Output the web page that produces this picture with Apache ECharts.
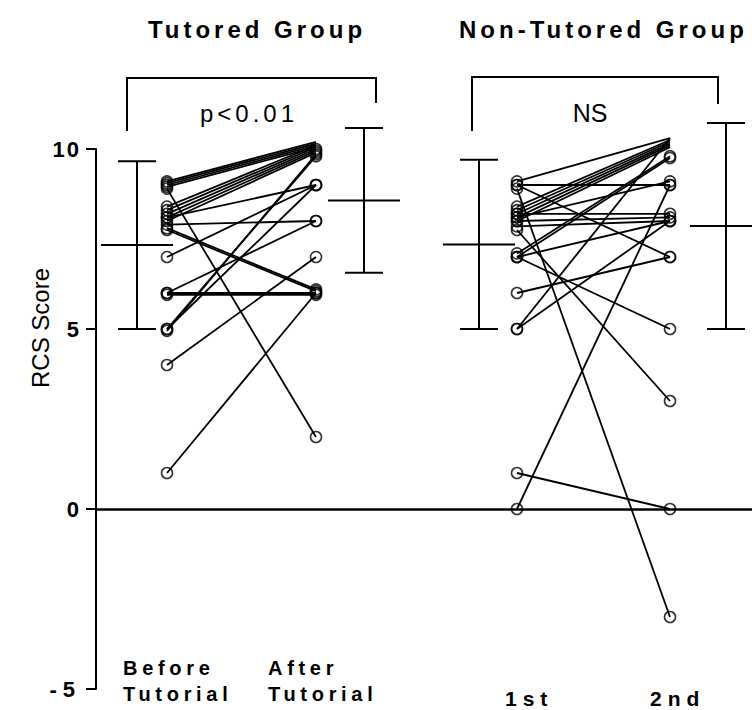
<!DOCTYPE html>
<html><head><meta charset="utf-8">
<script src="https://cdn.jsdelivr.net/npm/echarts@6/dist/echarts.min.js"></script>
<style>html,body{margin:0;padding:0;background:#fff}#c{width:752px;height:710px}</style>
</head><body><div id="c"></div>
<script>
// ---- data ----
const groupTitles = ['Tutored Group', 'Non-Tutored Group'];
const pLabels = ['p<0.01', 'NS'];
const timeLabels = ['Before\nTutorial', 'After\nTutorial', '1st', '2nd'];
const yAxisName = 'RCS Score';
const yTicks = [-5, 0, 5, 10];

const tutoredBefore = [9.1, 9.05, 9.0, 8.95, 8.9, 8.4, 8.3, 8.2, 8.1, 8.0, 8.1, 7.9, 7.8, 7.75, 7.0, 6.0, 5.95, 6.0, 5.0, 4.95, 5.0, 4.0, 1.0];
const tutoredAfter  = [10.2, 10.15, 10.1, 10.05, 2.0, 10.1, 10.05, 10.0, 9.95, 9.9, 9.0, 8.0, 6.1, 6.05, 9.0, 6.0, 5.95, 8.0, 9.8, 9.85, 9.0, 7.0, 6.0];
const nonTutoredFirst  = [9.1, 9.0, 9.0, 8.9, 8.4, 8.3, 8.2, 8.1, 8.0, 8.2, 8.0, 7.85, 8.1, 7.75, 7.1, 7.0, 7.0, 7.0, 6.0, 5.0, 5.0, 1.0, 0.0];
const nonTutoredSecond = [10.3, 9.0, 7.0, -3.0, 10.25, 10.2, 10.15, 10.1, 10.05, 8.2, 8.1, 8.0, 9.1, 3.0, 9.8, 9.75, 8.0, 5.0, 7.0, 10.3, 8.0, 0.0, 9.0];

const summaryMean = [7.33, 8.57, 7.35, 7.86];
const summarySD   = [2.33, 2.01, 2.35, 2.86];

// ---- layout (axis units: 1 unit = 1 px horizontally) ----
const colX = [71, 220, 421, 574];
const barX = [41, 268, 383, 630];
const FONT = '"Liberation Sans", Arial, Helvetica, sans-serif';

const chart = echarts.init(document.getElementById('c'), null, {renderer: 'svg'});

function pairSeries(before, after, xa, xb) {
  return {
    type: 'custom', z: 2, clip: false, silent: true,
    data: before.map((b, i) => [b, after[i]]),
    renderItem(params, api) {
      const p1 = api.coord([xa, api.value(0)]);
      const p2 = api.coord([xb, api.value(1)]);
      return {type: 'line', shape: {x1: p1[0], y1: p1[1], x2: p2[0], y2: p2[1]},
              style: {stroke: '#000', lineWidth: 1.8}};
    }
  };
}
function dotSeries(vals, x) {
  return {
    type: 'scatter', z: 3, silent: true, symbol: 'circle', symbolSize: 11,
    itemStyle: {color: 'rgba(0,0,0,0)', borderColor: '#000', borderWidth: 1.6},
    data: vals.map(v => [x, v])
  };
}
function txt(x, y, text, font, align, valign, extra) {
  return Object.assign({type: 'text', x: x, y: y, style: Object.assign({
    text: text, fill: '#000', font: font, align: align, verticalAlign: valign,
    textAlign: align, textVerticalAlign: valign
  }, extra || {})});
}

const option = {
  animation: false,
  backgroundColor: '#fff',
  grid: {left: 96, top: 149, width: 656, height: 540, containLabel: false},
  xAxis: {
    type: 'value', min: 0, max: 656,
    axisLine: {show: true, onZero: true, lineStyle: {color: '#000', width: 2.5}},
    axisTick: {show: false}, axisLabel: {show: false}, splitLine: {show: false}
  },
  yAxis: {
    type: 'value', min: yTicks[0], max: yTicks[yTicks.length - 1], interval: yTicks[1] - yTicks[0],
    axisLine: {show: true, onZero: false, lineStyle: {color: '#000', width: 2}},
    axisTick: {show: true, length: 10, lineStyle: {color: '#000', width: 2}},
    axisLabel: {color: '#000', fontFamily: FONT, fontWeight: 'bold', fontSize: 22, margin: 15},
    splitLine: {show: false}
  },
  series: [
    pairSeries(tutoredBefore, tutoredAfter, colX[0], colX[1]),
    pairSeries(nonTutoredFirst, nonTutoredSecond, colX[2], colX[3]),
    dotSeries(tutoredBefore, colX[0]),
    dotSeries(tutoredAfter, colX[1]),
    dotSeries(nonTutoredFirst, colX[2]),
    dotSeries(nonTutoredSecond, colX[3]),
    {
      type: 'custom', z: 4, clip: false, silent: true,
      data: summaryMean.map((m, i) => [i, m, summarySD[i]]),
      renderItem(params, api) {
        const i = api.value(0), m = api.value(1), sd = api.value(2);
        const x = barX[i];
        const top = api.coord([x, m + sd]), bot = api.coord([x, m - sd]), mid = api.coord([x, m]);
        const w = 19, mw = 36;
        const st = {stroke: '#000', lineWidth: 2};
        return {type: 'group', children: [
          {type: 'line', shape: {x1: top[0], y1: top[1], x2: bot[0], y2: bot[1]}, style: st},
          {type: 'line', shape: {x1: top[0] - w, y1: top[1], x2: top[0] + w, y2: top[1]}, style: st},
          {type: 'line', shape: {x1: bot[0] - w, y1: bot[1], x2: bot[0] + w, y2: bot[1]}, style: st},
          {type: 'line', shape: {x1: mid[0] - mw, y1: mid[1], x2: mid[0] + mw, y2: mid[1]}, style: st}
        ]};
      }
    }
  ],
  graphic: [
    {type: 'polyline', shape: {points: [[127, 131], [127, 78], [376, 78], [376, 103]]}, style: {stroke: '#000', lineWidth: 2, fill: null}},
    {type: 'polyline', shape: {points: [[472, 131], [472, 77], [718, 77], [718, 104]]}, style: {stroke: '#000', lineWidth: 2, fill: null}},
    txt(257, 29, groupTitles[0], 'bold 24px ' + FONT, 'center', 'middle'),
    txt(459, 29, groupTitles[1], 'bold 24px ' + FONT, 'left', 'middle'),
    txt(249, 113, pLabels[0], '24px ' + FONT, 'center', 'middle'),
    txt(590, 113, pLabels[1], '25px ' + FONT, 'center', 'middle'),
    Object.assign(txt(40, 328, yAxisName, '24px ' + FONT, 'center', 'middle'), {rotation: Math.PI / 2}),
    txt(123, 681, timeLabels[0], 'bold 20px ' + FONT, 'left', 'middle', {lineHeight: 26}),
    txt(268, 681, timeLabels[1], 'bold 20px ' + FONT, 'left', 'middle', {lineHeight: 26}),
    txt(505, 698, timeLabels[2], 'bold 21px ' + FONT, 'left', 'middle'),
    txt(650, 698, timeLabels[3], 'bold 21px ' + FONT, 'left', 'middle')
  ]
};
chart.setOption(option);

// letter spacing to mimic the spaced lettering of the original
const spacing = {
  'Tutored Group': 4, 'Non-Tutored Group': 4,
  'Before': 4.7, 'After': 4.7, 'Tutorial': 4.7, '1st': 6, '2nd': 6,
  'p<0.01': 4, '10': 2, '5': 2, '0': 2, '-5': 6
};
function applySpacing() {
  document.querySelectorAll('#c svg text').forEach(t => {
    const s = spacing[t.textContent];
    if (s != null) t.setAttribute('letter-spacing', s + 'px');
  });
}
applySpacing();
chart.on('finished', applySpacing);
setTimeout(applySpacing, 0);
setTimeout(applySpacing, 200);
</script></body></html>
